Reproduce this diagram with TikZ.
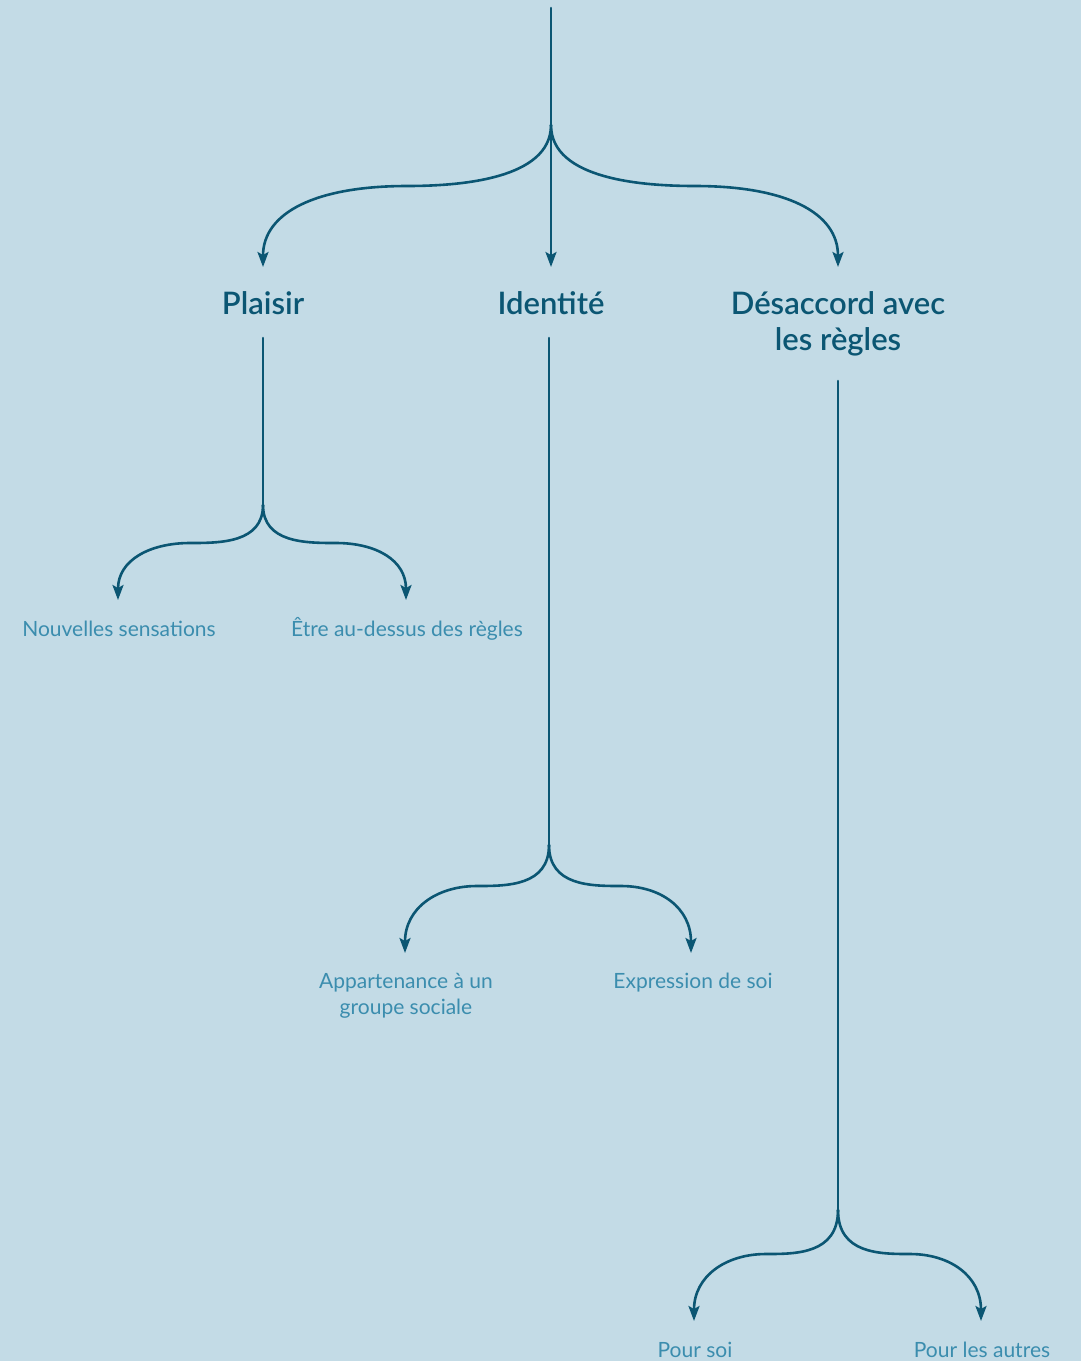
\documentclass[tikz,border=0pt]{standalone}
\usepackage{fontspec}
\setmainfont{Lato}
\newfontfamily\titlefont{Lato Semibold}
\usetikzlibrary{arrows.meta}
\definecolor{bgblue}{HTML}{C3DBE6}
\definecolor{ink}{HTML}{0B5673}
\definecolor{leafink}{HTML}{3B8DAE}

\begin{document}
\begin{tikzpicture}[x=1pt,y=-1pt,
  link/.style={draw=ink, line width=2.6pt, line cap=round},
  arr/.style={link, -{Stealth[length=15pt,width=11pt,inset=3pt]}},
  title/.style={text=ink, font=\fontsize{31}{36}\selectfont\titlefont, align=center, anchor=base, inner sep=0pt},
  leaf/.style={text=leafink, font=\fontsize{21}{26}\selectfont, align=center, anchor=base, inner sep=0pt}]
\fill[bgblue] (0,0) rectangle (1081,1361);
\useasboundingbox (0,0) rectangle (1081,1361);

% root split
\coordinate (top) at (551,8);
\coordinate (j0) at (551,125);
\coordinate (m0L) at (407,186);
\coordinate (m0R) at (695,186);
\coordinate (tP) at (263,267);
\coordinate (tI) at (551,267);
\coordinate (tD) at (838,267);

\draw[link] (top) -- (j0);
\draw[arr] (j0) .. controls +(0,55) and +(50,0) .. (m0L) .. controls +(-90,0) and +(0,-55) .. (tP);
\draw[arr] (j0) -- (tI);
\draw[arr] (j0) .. controls +(0,55) and +(-50,0) .. (m0R) .. controls +(90,0) and +(0,-55) .. (tD);

% main categories (base anchor sits on the last line)
\node[title] (plaisir) at (263,314) {Plaisir};
\node[title] (identite) at (551,314) {Identité};
\node[title] (desaccord) at (838,350) {Désaccord avec\\les règles};

% Plaisir branch
\coordinate (sP) at (263,338);
\coordinate (jP) at (263,505);
\coordinate (mPL) at (190,543);
\coordinate (mPR) at (336,543);
\coordinate (tPL) at (118,600);
\coordinate (tPR) at (406,600);
\draw[link] (sP) -- (jP);
\draw[arr] (jP) .. controls +(0,38) and +(30,0) .. (mPL) .. controls +(-40,0) and +(0,-40) .. (tPL);
\draw[arr] (jP) .. controls +(0,38) and +(-30,0) .. (mPR) .. controls +(40,0) and +(0,-40) .. (tPR);
\node[leaf] (nouv) at (119,636) {Nouvelles sensations};
\node[leaf] (etre) at (407,636) {Être au-dessus des règles};

% Identité branch
\coordinate (sI) at (549,338);
\coordinate (jI) at (549,845);
\coordinate (mIL) at (477,886);
\coordinate (mIR) at (621,886);
\coordinate (tIL) at (405,953);
\coordinate (tIR) at (691,953);
\draw[link] (sI) -- (jI);
\draw[arr] (jI) .. controls +(0,41) and +(30,0) .. (mIL) .. controls +(-40,0) and +(0,-45) .. (tIL);
\draw[arr] (jI) .. controls +(0,41) and +(-30,0) .. (mIR) .. controls +(40,0) and +(0,-45) .. (tIR);
\node[leaf] (appart) at (406,1014) {Appartenance à un\\groupe sociale};
\node[leaf] (expr) at (693,988) {Expression de soi};

% Désaccord branch
\coordinate (sD) at (838,381);
\coordinate (jD) at (838,1210);
\coordinate (mDL) at (766,1254);
\coordinate (mDR) at (910,1254);
\coordinate (tDL) at (694,1321);
\coordinate (tDR) at (981,1321);
\draw[link] (sD) -- (jD);
\draw[arr] (jD) .. controls +(0,44) and +(30,0) .. (mDL) .. controls +(-40,0) and +(0,-45) .. (tDL);
\draw[arr] (jD) .. controls +(0,44) and +(-30,0) .. (mDR) .. controls +(40,0) and +(0,-45) .. (tDR);
\node[leaf] (soi) at (695,1357) {Pour soi};
\node[leaf] (autres) at (982,1357) {Pour les autres};
\end{tikzpicture}
\end{document}
